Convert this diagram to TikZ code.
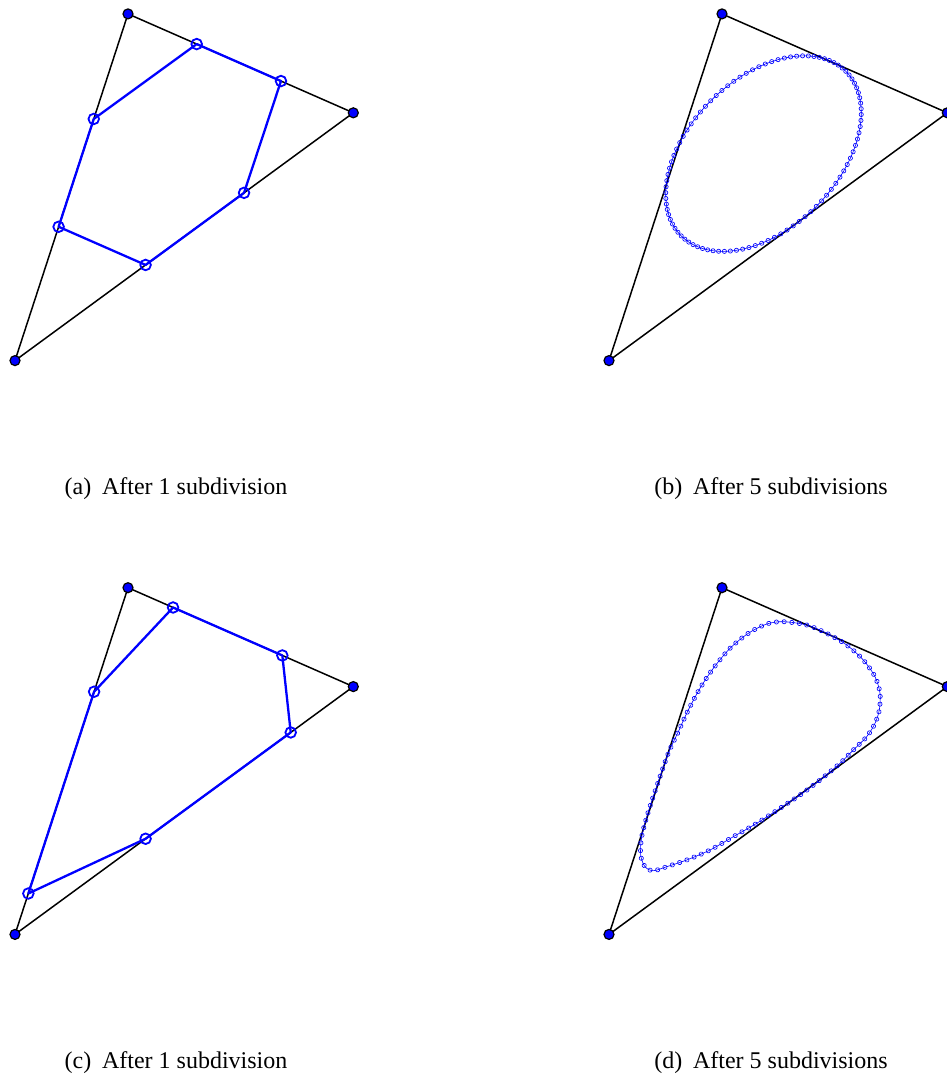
\documentclass[tikz,border=0pt]{standalone}
\usepackage{fontspec}
\setmainfont{Liberation Serif}
\usetikzlibrary{calc,decorations.markings}
\begin{document}
\begin{tikzpicture}[x=1pt,y=-1pt,
  edge/.style={black, line width=1.5pt},
  vdot/.style={fill=blue, draw=black, line width=1.2pt},
  cpoly/.style={blue, line width=2.3pt, line join=round},
  cmark/.style={draw=blue, line width=1.8pt},
  fine/.style={blue, line width=0.6pt},
  bead/.style={draw=blue, line width=0.65pt},
  caption/.style={font=\fontsize{24}{28}\selectfont, anchor=base, inner sep=0pt},
  beads/.style={postaction={decorate, decoration={markings,
      mark=between positions 0 and 0.995 step 0.0104167 with {\draw[bead] (0,0) circle[radius=2.1pt];}}}}
]
\useasboundingbox (0,0) rectangle (946,1074);

% ---------------- panel (a)
\coordinate (Aa) at (128,13.9);
\coordinate (Ba) at (353.3,112.8);
\coordinate (Ca) at (15,360.6);
\draw[edge] (Aa) -- (Ba) -- (Ca) -- cycle;
\coordinate (a1) at ($(Aa)!0.305!(Ba)$);
\coordinate (a2) at ($(Ba)!0.321!(Aa)$);
\coordinate (a3) at ($(Ba)!0.323!(Ca)$);
\coordinate (a4) at ($(Ca)!0.386!(Ba)$);
\coordinate (a5) at ($(Ca)!0.386!(Aa)$);
\coordinate (a6) at ($(Aa)!0.303!(Ca)$);
\draw[cpoly] (a1) -- (a2) -- (a3) -- (a4) -- (a5) -- (a6) -- cycle;
\foreach \p in {a1,a2,a3,a4,a5,a6} \draw[cmark] (\p) circle[radius=5.3pt];
\foreach \p in {Aa,Ba,Ca} \draw[vdot] (\p) circle[radius=5pt];

% ---------------- panel (b)
\coordinate (Ab) at (722,13.9);
\coordinate (Bb) at (947.3,112.8);
\coordinate (Cb) at (609,360.6);
\draw[edge] (Ab) -- (Bb) -- (Cb) -- cycle;
\draw[fine] plot[domain=0:356.25, samples=96]
  ({763.5+82.3*cos(\x)+52.8*sin(\x)}, {153.6-82.3*cos(\x)+52.8*sin(\x)}) -- cycle;
\foreach \k in {0,...,95}
  \draw[bead] ({763.5+82.3*cos(\k*3.75)+52.8*sin(\k*3.75)}, {153.6-82.3*cos(\k*3.75)+52.8*sin(\k*3.75)}) circle[radius=2.1pt];
\foreach \p in {Ab,Bb,Cb} \draw[vdot] (\p) circle[radius=5pt];

% ---------------- panel (c)
\coordinate (Ac) at (128,587.7);
\coordinate (Bc) at (353.3,686.6);
\coordinate (Cc) at (15,934.4);
\draw[edge] (Ac) -- (Bc) -- (Cc) -- cycle;
\coordinate (c1) at ($(Ac)!0.20!(Bc)$);
\coordinate (c2) at ($(Bc)!0.315!(Ac)$);
\coordinate (c3) at ($(Bc)!0.185!(Cc)$);
\coordinate (c4) at ($(Cc)!0.386!(Bc)$);
\coordinate (c5) at ($(Cc)!0.118!(Ac)$);
\coordinate (c6) at ($(Ac)!0.30!(Cc)$);
\draw[cpoly] (c1) -- (c2) -- (c3) -- (c4) -- (c5) -- (c6) -- cycle;
\foreach \p in {c1,c2,c3,c4,c5,c6} \draw[cmark] (\p) circle[radius=5.3pt];
\foreach \p in {Ac,Bc,Cc} \draw[vdot] (\p) circle[radius=5pt];

% ---------------- panel (d)
\coordinate (Ad) at (722,587.7);
\coordinate (Bd) at (947.3,686.6);
\coordinate (Cd) at (609,934.4);
\draw[edge] (Ad) -- (Bd) -- (Cd) -- cycle;
\draw[fine, beads] plot[smooth cycle, tension=0.5] coordinates {
 (783.3,621.7) (806.7,625) (826.7,633.3) (846.7,645) (863.3,660) (875,676.7)
 (880,693.3) (879.3,710) (875,723.3) (866.7,736.7) (853.3,750) (840,763.3)
 (820,780) (800,795) (780,808.3) (756.7,823.3) (733.3,836.7) (710,850)
 (686.7,860) (666.7,866.7) (653.3,870.7) (645,866.7) (640.7,855) (641.7,836.7)
 (648.3,811.7) (658.3,781.7) (668.3,753.3) (678.3,731.7) (688.3,710) (700,688.3)
 (713.3,668.3) (730,648.3) (748.3,633.3) (766.7,624)};
\foreach \p in {Ad,Bd,Cd} \draw[vdot] (\p) circle[radius=5pt];

% ---------------- captions
\node[caption] (capa) at (176,494) {(a)\hspace{0.45em}After 1 subdivision};
\node[caption] (capb) at (771,494) {(b)\hspace{0.45em}After 5 subdivisions};
\node[caption] (capc) at (176,1068) {(c)\hspace{0.45em}After 1 subdivision};
\node[caption] (capd) at (771,1068) {(d)\hspace{0.45em}After 5 subdivisions};
\end{tikzpicture}
\end{document}
